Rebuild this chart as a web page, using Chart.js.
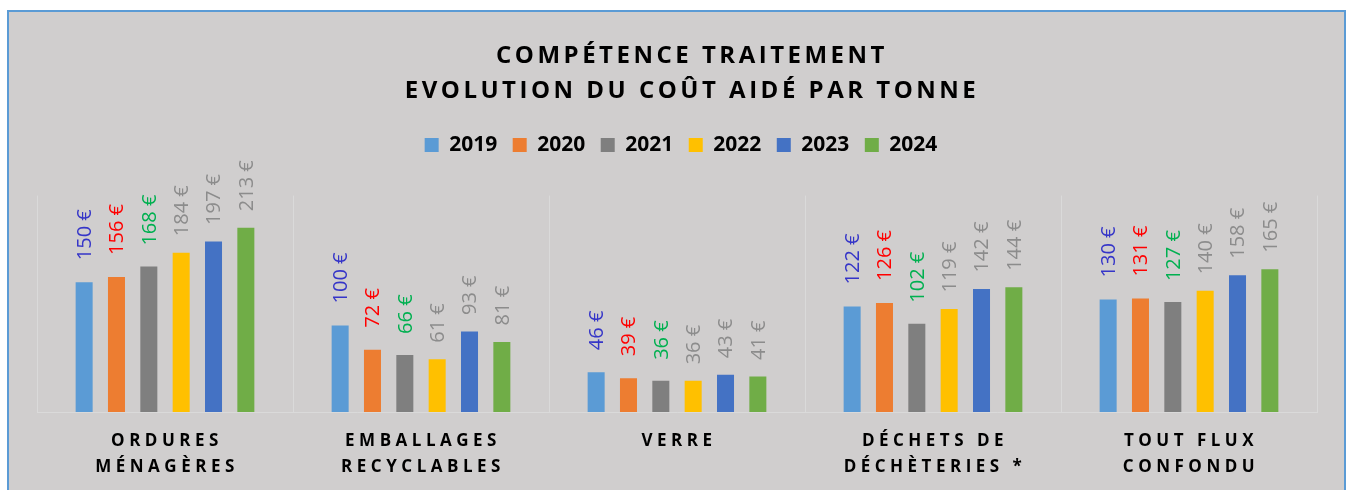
<!DOCTYPE html>
<html><head><meta charset="utf-8">
<script src="https://cdn.jsdelivr.net/npm/chart.js@4/dist/chart.umd.min.js"></script>
<style>
html,body{margin:0;padding:0;background:#fff;width:1346px;height:490px;overflow:hidden;}
#frame{position:absolute;left:7px;top:10px;width:1339px;height:490px;box-sizing:border-box;background:#D0CECE;border:2px solid #5B9BD5;border-bottom:none;}
#c{position:absolute;left:0;top:0;}
</style></head><body>
<div id="frame"></div>
<canvas id="c" width="1346" height="490"></canvas>
<script>
// ---- data ----
const categories = [
  ['ORDURES', 'MÉNAGÈRES'],
  ['EMBALLAGES', 'RECYCLABLES'],
  ['VERRE'],
  ['DÉCHETS DE', 'DÉCHÈTERIES *'],
  ['TOUT FLUX', 'CONFONDU']
];
const years = ['2019', '2020', '2021', '2022', '2023', '2024'];
const v2019 = [150, 100, 46, 122, 130];
const v2020 = [156, 72, 39, 126, 131];
const v2021 = [168, 66, 36, 102, 127];
const v2022 = [184, 61, 36, 119, 140];
const v2023 = [197, 93, 43, 142, 158];
const v2024 = [213, 81, 41, 144, 165];
const titleLines = ['COMPÉTENCE TRAITEMENT', 'EVOLUTION DU COÛT AIDÉ PAR TONNE'];
const currency = '€';

// ---- styles ----
const barColors = ['#5B9BD5', '#ED7D31', '#7F7F7F', '#FFC000', '#4472C4', '#70AD47'];
const labelColors = ['#3535C8', '#FF0000', '#00B050', '#8C8C8C', '#8C8C8C', '#8C8C8C'];
const labelOffsets = [22, 22, 21, 16.5, 16.5, 16.5];
const FONT = '"Open Sans", "DejaVu Sans", sans-serif';

const seriesValues = [v2019, v2020, v2021, v2022, v2023, v2024];

const valueLabelPlugin = {
  id: 'valueLabels',
  afterDatasetsDraw(chart) {
    const ctx = chart.ctx;
    chart.data.datasets.forEach((ds, i) => {
      const meta = chart.getDatasetMeta(i);
      meta.data.forEach((bar, j) => {
        ctx.save();
        ctx.font = '20px ' + FONT;
        ctx.fillStyle = labelColors[i];
        ctx.translate(bar.x + 1, bar.y - labelOffsets[i]);
        ctx.rotate(-Math.PI / 2);
        ctx.textAlign = 'left';
        ctx.textBaseline = 'middle';
        ctx.fillText(ds.data[j] + ' ' + currency, 0, 0);
        ctx.restore();
      });
    });
  }
};

function wrapDraw(obj, method, spacing, dx) {
  if (!obj || obj['__w_' + method]) return;
  const orig = obj[method];
  obj[method] = function () {
    const c = this.ctx;
    c.save();
    c.letterSpacing = spacing;
    c.translate(dx, 0);
    orig.apply(this, arguments);
    c.restore();
  };
  obj['__w_' + method] = true;
}

const spacingPlugin = {
  id: 'letterSpacing',
  afterLayout(chart) {
    wrapDraw(chart.titleBlock, 'draw', '3.5px', 15);
    wrapDraw(chart.legend, 'draw', '0px', 4);
    wrapDraw(chart.scales.x, 'drawLabels', '4.5px', 2);
  }
};

new Chart(document.getElementById('c'), {
  type: 'bar',
  data: {
    labels: categories,
    datasets: years.map((y, i) => ({
      label: y,
      data: seriesValues[i],
      backgroundColor: barColors[i],
      borderWidth: 0,
      categoryPercentage: 0.758,
      barPercentage: 0.526
    }))
  },
  options: {
    responsive: false,
    animation: false,
    layout: { padding: { left: 37, right: 29, top: 0, bottom: 0 } },
    plugins: {
      title: {
        display: true,
        text: titleLines,
        color: '#000',
        font: { family: FONT, size: 24, weight: 'bold', lineHeight: 1.44 },
        padding: { top: 39, bottom: 11 }
      },
      subtitle: {
        display: true,
        text: '',
        weight: 500,
        font: { size: 1, lineHeight: 1 },
        padding: { top: 14.5, bottom: 14.5 }
      },
      legend: {
        display: true,
        position: 'top',
        labels: {
          boxWidth: 14,
          boxHeight: 14,
          padding: 15.5,
          color: '#000',
          font: { family: FONT, size: 21, weight: 'bold' }
        }
      },
      tooltip: { enabled: false }
    },
    scales: {
      x: {
        afterFit(scale) { scale.height = 78; },
        grid: { display: true, color: '#DADADA', lineWidth: 1, drawTicks: false, offset: true },
        border: { display: true, color: '#DADADA', width: 1 },
        ticks: {
          color: '#000',
          padding: 16,
          maxRotation: 0,
          autoSkip: false,
          font: { family: FONT, size: 17, weight: 'bold', lineHeight: 1.53 }
        }
      },
      y: {
        display: false,
        min: 0,
        max: 250
      }
    }
  },
  plugins: [valueLabelPlugin, spacingPlugin]
});
</script>
</body></html>
